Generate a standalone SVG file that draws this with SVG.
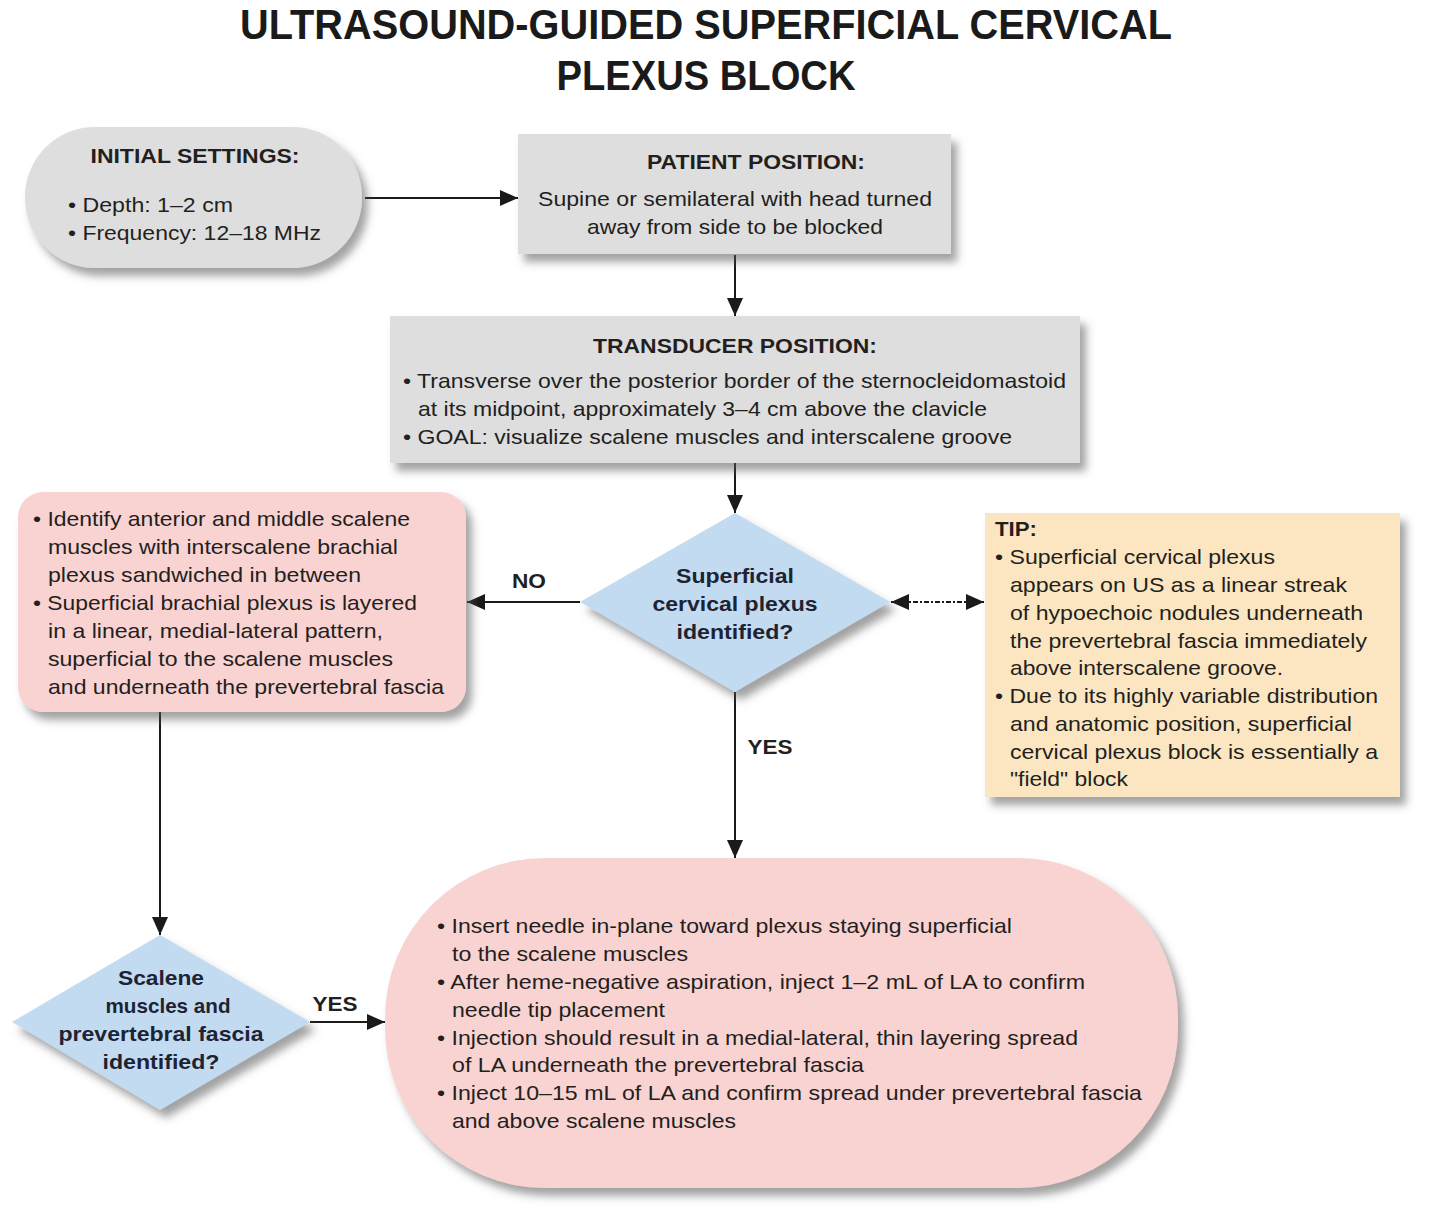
<svg xmlns="http://www.w3.org/2000/svg" width="1435" height="1223" viewBox="0 0 1435 1223">
<defs>
<style>
text{font-family:"Liberation Sans",Arial,sans-serif;fill:#231f20;font-size:21px}
.b{font-weight:bold}
.title{font-family:"Liberation Sans",Arial,sans-serif;font-weight:bold;font-size:42px;fill:#1a1a1a}
.dq{fill:#1d2333;font-weight:bold}
.grey{fill:#dedede}
.pink{fill:#f9d3d2}
.blue{fill:#c3dbf1}
.tip{fill:#fce6c1}
.ln{stroke:#1a1a1a;stroke-width:2;fill:none}
</style>
<filter id="sh" x="-10%" y="-10%" width="125%" height="130%">
<feDropShadow dx="6" dy="8" stdDeviation="4" flood-color="#555" flood-opacity="0.55"/>
</filter>
<marker id="ah" markerUnits="userSpaceOnUse" markerWidth="20" markerHeight="16" refX="18" refY="8" orient="auto-start-reverse">
<path d="M0,0 L18,8 L0,16 Z" fill="#1a1a1a"/>
</marker>
</defs>
<rect width="1435" height="1223" fill="#ffffff"/>

<g id="title">
<text class="title" x="706" y="39" text-anchor="middle" textLength="932" lengthAdjust="spacingAndGlyphs">ULTRASOUND-GUIDED SUPERFICIAL CERVICAL</text>
<text class="title" x="706" y="90" text-anchor="middle" textLength="299" lengthAdjust="spacingAndGlyphs">PLEXUS BLOCK</text>
</g>

<g id="connectors">
<line class="ln" x1="365" y1="198" x2="518" y2="198" marker-end="url(#ah)"/>
<line class="ln" x1="735" y1="255" x2="735" y2="316" marker-end="url(#ah)"/>
<line class="ln" x1="735" y1="463" x2="735" y2="513" marker-end="url(#ah)"/>
<line class="ln" x1="580" y1="602" x2="467" y2="602" marker-end="url(#ah)"/>
<line class="ln" x1="160" y1="712" x2="160" y2="935" marker-end="url(#ah)"/>
<line class="ln" x1="310" y1="1022" x2="385" y2="1022" marker-end="url(#ah)"/>
<line class="ln" x1="735" y1="692" x2="735" y2="858" marker-end="url(#ah)"/>
<line class="ln" x1="891" y1="602" x2="984" y2="602" stroke-dasharray="5 2 2 2" marker-start="url(#ah)" marker-end="url(#ah)"/>
<text class="b" x="529" y="588" text-anchor="middle" textLength="34" lengthAdjust="spacingAndGlyphs">NO</text>
<text class="b" x="770" y="754" text-anchor="middle" textLength="45" lengthAdjust="spacingAndGlyphs">YES</text>
<text class="b" x="335" y="1011" text-anchor="middle" textLength="45" lengthAdjust="spacingAndGlyphs">YES</text>
</g>

<g id="initial">
<rect class="grey" x="25" y="127" width="337" height="141" rx="70" ry="70" filter="url(#sh)"/>
<text class="b" x="195" y="163" text-anchor="middle" textLength="209" lengthAdjust="spacingAndGlyphs">INITIAL SETTINGS:</text>
<text x="68" y="212" textLength="165" lengthAdjust="spacingAndGlyphs">• Depth: 1–2 cm</text>
<text x="68" y="240" textLength="253" lengthAdjust="spacingAndGlyphs">• Frequency: 12–18 MHz</text>
</g>

<g id="patient">
<rect class="grey" x="518" y="134" width="433" height="120" filter="url(#sh)"/>
<text class="b" x="756" y="169" text-anchor="middle" textLength="218" lengthAdjust="spacingAndGlyphs">PATIENT POSITION:</text>
<text x="735" y="206" text-anchor="middle" textLength="394" lengthAdjust="spacingAndGlyphs">Supine or semilateral with head turned</text>
<text x="735" y="234" text-anchor="middle" textLength="296" lengthAdjust="spacingAndGlyphs">away from side to be blocked</text>
</g>

<g id="transducer">
<rect class="grey" x="390" y="316" width="690" height="147" filter="url(#sh)"/>
<text class="b" x="735" y="353" text-anchor="middle" textLength="284" lengthAdjust="spacingAndGlyphs">TRANSDUCER POSITION:</text>
<text x="403" y="388" textLength="663" lengthAdjust="spacingAndGlyphs">• Transverse over the posterior border of the sternocleidomastoid</text>
<text x="418" y="416" textLength="569" lengthAdjust="spacingAndGlyphs">at its midpoint, approximately 3–4 cm above the clavicle</text>
<text x="403" y="444" textLength="609" lengthAdjust="spacingAndGlyphs">• GOAL: visualize scalene muscles and interscalene groove</text>
</g>

<g id="decision1">
<polygon class="blue" points="735,513 890,602 735,692 580,602" filter="url(#sh)"/>
<text class="dq" x="735" y="583" text-anchor="middle" textLength="118" lengthAdjust="spacingAndGlyphs">Superficial</text>
<text class="dq" x="735" y="611" text-anchor="middle" textLength="165" lengthAdjust="spacingAndGlyphs">cervical plexus</text>
<text class="dq" x="735" y="639" text-anchor="middle" textLength="117" lengthAdjust="spacingAndGlyphs">identified?</text>
</g>

<g id="no-box">
<rect class="pink" x="18" y="492" width="448" height="220" rx="25" ry="25" filter="url(#sh)"/>
<text x="33" y="526" textLength="377" lengthAdjust="spacingAndGlyphs">• Identify anterior and middle scalene</text>
<text x="48" y="554" textLength="350" lengthAdjust="spacingAndGlyphs">muscles with interscalene brachial</text>
<text x="48" y="582" textLength="313" lengthAdjust="spacingAndGlyphs">plexus sandwiched in between</text>
<text x="33" y="610" textLength="384" lengthAdjust="spacingAndGlyphs">• Superficial brachial plexus is layered</text>
<text x="48" y="638" textLength="335" lengthAdjust="spacingAndGlyphs">in a linear, medial-lateral pattern,</text>
<text x="48" y="666" textLength="345" lengthAdjust="spacingAndGlyphs">superficial to the scalene muscles</text>
<text x="48" y="694" textLength="396" lengthAdjust="spacingAndGlyphs">and underneath the prevertebral fascia</text>
</g>

<g id="tip">
<rect class="tip" x="985" y="513" width="415" height="284" filter="url(#sh)"/>
<text class="b" x="995" y="536" textLength="42" lengthAdjust="spacingAndGlyphs">TIP:</text>
<text x="995" y="564" textLength="280" lengthAdjust="spacingAndGlyphs">• Superficial cervical plexus</text>
<text x="1010" y="592" textLength="337" lengthAdjust="spacingAndGlyphs">appears on US as a linear streak</text>
<text x="1010" y="620" textLength="353" lengthAdjust="spacingAndGlyphs">of hypoechoic nodules underneath</text>
<text x="1010" y="648" textLength="357" lengthAdjust="spacingAndGlyphs">the prevertebral fascia immediately</text>
<text x="1010" y="675" textLength="273" lengthAdjust="spacingAndGlyphs">above interscalene groove.</text>
<text x="995" y="703" textLength="383" lengthAdjust="spacingAndGlyphs">• Due to its highly variable distribution</text>
<text x="1010" y="731" textLength="342" lengthAdjust="spacingAndGlyphs">and anatomic position, superficial</text>
<text x="1010" y="759" textLength="368" lengthAdjust="spacingAndGlyphs">cervical plexus block is essentially a</text>
<text x="1010" y="786" textLength="118" lengthAdjust="spacingAndGlyphs">"field" block</text>
</g>

<g id="decision2">
<polygon class="blue" points="160,935 310,1022 160,1110 12,1022" filter="url(#sh)"/>
<text class="dq" x="161" y="985" text-anchor="middle" textLength="86" lengthAdjust="spacingAndGlyphs">Scalene</text>
<text class="dq" x="168" y="1013" text-anchor="middle" textLength="125" lengthAdjust="spacingAndGlyphs">muscles and</text>
<text class="dq" x="161" y="1041" text-anchor="middle" textLength="205" lengthAdjust="spacingAndGlyphs">prevertebral fascia</text>
<text class="dq" x="161" y="1069" text-anchor="middle" textLength="117" lengthAdjust="spacingAndGlyphs">identified?</text>
</g>

<g id="procedure">
<rect class="pink" x="385" y="858" width="793" height="330" rx="160" ry="160" filter="url(#sh)"/>
<text x="437" y="933" textLength="575" lengthAdjust="spacingAndGlyphs">• Insert needle in-plane toward plexus staying superficial</text>
<text x="452" y="961" textLength="236" lengthAdjust="spacingAndGlyphs">to the scalene muscles</text>
<text x="437" y="989" textLength="648" lengthAdjust="spacingAndGlyphs">• After heme-negative aspiration, inject 1–2 mL of LA to confirm</text>
<text x="452" y="1017" textLength="213" lengthAdjust="spacingAndGlyphs">needle tip placement</text>
<text x="437" y="1045" textLength="641" lengthAdjust="spacingAndGlyphs">• Injection should result in a medial-lateral, thin layering spread</text>
<text x="452" y="1072" textLength="412" lengthAdjust="spacingAndGlyphs">of LA underneath the prevertebral fascia</text>
<text x="437" y="1100" textLength="705" lengthAdjust="spacingAndGlyphs">• Inject 10–15 mL of LA and confirm spread under prevertebral fascia</text>
<text x="452" y="1128" textLength="284" lengthAdjust="spacingAndGlyphs">and above scalene muscles</text>
</g>
</svg>
